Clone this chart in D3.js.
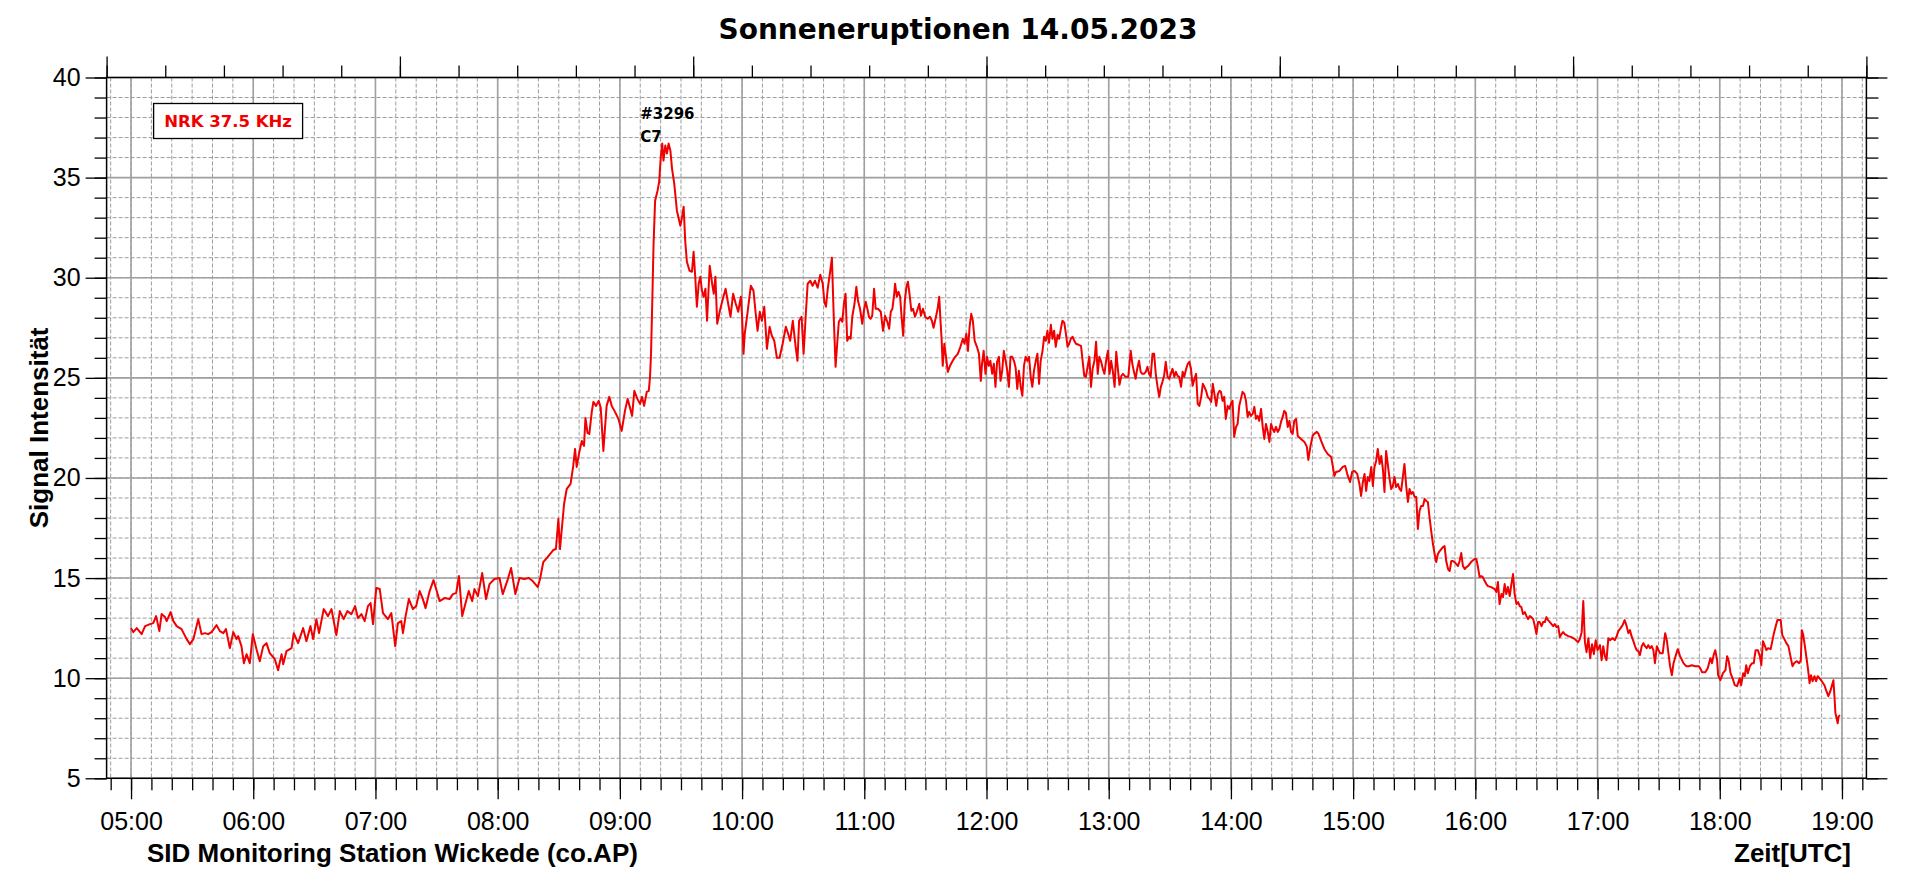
<!DOCTYPE html>
<html>
<head>
<meta charset="utf-8">
<script src="https://cdn.jsdelivr.net/npm/d3@7"></script>
<style>
  body { margin: 0; background: #fff; }
  svg text { font-family: "Liberation Sans", Arial, sans-serif; }
  svg text.verd { font-family: "DejaVu Sans", Verdana, sans-serif; font-weight: bold; }
</style>
</head>
<body>
<div id="chart"></div>
<script>
// signal readings: [minutes after 05:00 UTC, intensity]
var quietMorning = [[0,12.5],[1.1,12.3],[2.8,12.5],[5.2,12.2],[6.9,12.6],[9.3,12.7],[10.9,12.75],[12.3,13.1],[13.9,12.35],[15,13.2],[16.7,13.05],[17.5,12.85],[19.4,13.3],[20.8,12.85],[22.4,12.6],[24.8,12.45],[27.3,11.95],[28.9,11.7],[30.6,11.95],[33,12.95],[34.6,12.2],[36.3,12.25],[37.9,12.2],[39.5,12.3],[42,12.65],[43.6,12.35],[45.3,12.25],[46.6,12.45],[48.5,11.5],[50.2,12.3],[51.8,11.95],[52.6,12.1],[54.2,11.6],[55.4,10.75],[56.7,11.2],[58.3,10.75],[59.8,12.2],[61.6,11.45],[63.2,10.85],[64.9,11.6],[66.5,11.75],[68.1,11.25],[70.6,10.95],[72.2,10.4],[73.9,11.2],[74.7,10.7],[76.3,11.35],[78.8,11.5],[79.9,12.25],[82,11.75],[84.5,12.5],[86.1,11.85],[88.1,12.6],[89.4,11.95],[91,12.95],[92.3,12.25],[94.6,13.45],[96.7,13.1],[98.4,13.45],[100.8,12.15],[102.5,13.35],[104.4,12.95],[106.2,13.35],[108.2,13.2],[110,13.6],[111.4,13],[113.1,13.2],[114.7,12.85],[116.3,13.6],[117.6,13.75],[118.8,12.7],[120.4,14.5],[122.1,14.45],[123.7,13.25],[126.1,12.95],[127.8,13.25],[129.7,11.6],[131,12.75],[132.7,12.85],[133.5,12.25],[134.8,13.1],[136.4,13.95],[138.4,13.45],[140,13.6],[141.7,14.35],[143.3,13.95],[144.6,13.5],[146.6,14.35],[148.5,14.9],[149.8,14.45],[151.5,13.85],[153.9,14],[156.4,13.95],[158,14.2],[159.6,14.25],[161,15.1],[162.6,13.1],[164.5,13.85],[165.8,14.35],[167.5,13.85],[168.6,14.45],[170.3,14.1],[172.4,15.25],[174.3,13.95],[176,14.7],[178.4,14.95],[180.9,15],[182.5,14.2],[185,14.95],[186.6,15.5],[188.7,14.2],[190.7,15],[193.1,14.95],[195.3,15],[197.2,14.85],[199.7,14.55]];

var flare = [[200.8,14.95],[202.4,15.8],[204.9,16.1],[207.3,16.4],[208.6,16.45],[209.8,17.95],[210.6,16.45],[211.4,17.35],[212.6,18.7],[213.9,19.45],[215.8,19.7],[217.1,20.6],[218,21.45],[218.8,20.55],[220.1,21.3],[221.3,21.85],[222.4,21.6],[223.1,23],[224.1,22.25],[225,22.2],[226.2,23.3],[227,23.8],[228.3,23.6],[229.6,23.85],[230.6,23.5],[231.9,21.35],[232.7,22.5],[233.5,23.6],[234.8,24.05],[236,23.6],[237.6,23.3],[239.3,22.95],[240.9,22.35],[242.5,23.35],[243.8,23.95],[245,23.5],[246,23.1],[247.1,24.35],[248.6,23.95],[249.9,23.7],[250.9,24.05],[251.9,23.6],[253.2,24.3],[254.2,24.35],[254.8,25.05],[255.3,26.2],[256,29.2],[256.5,31.55],[257.3,33.85],[258.5,34.35],[259.3,34.8],[260.1,36.05],[260.8,36.7],[261.4,35.85],[262.3,36.6],[263.1,36.2],[263.9,36.7],[264.8,36.35],[265.6,35.45],[266.7,34.7],[268,33.35],[269.7,32.6],[270.5,33],[271.3,33.55],[272.1,31.8],[272.9,30.8],[274.2,30.35],[275.4,30.3],[276.2,31.3],[277,30.05],[277.8,28.55],[278.7,29.7],[279.5,30.05],[280.3,29.35],[281.1,29.05],[282,29.45],[282.8,27.85],[284.1,30.6],[285.3,29.7],[286.1,29.2],[286.9,30.05],[287.8,27.7],[289.1,28.35],[290.2,28.8],[291.9,29.45],[293,28.8],[294.3,28.05],[295.6,29.2],[296.9,28.7],[298.1,28.3],[299.4,29.05],[300,28.05],[300.7,26.2],[301.3,27.2],[302.6,28.2],[304.3,29.6],[305.6,29.35],[306.7,28.2],[307.6,27.35],[308.7,28.3],[309.7,27.85],[310.9,28.55],[312.2,26.45],[313.5,27.55],[314.6,27.1],[315.8,26.85],[317.1,26],[318.4,26],[319.9,26.7],[321.5,27.55],[322.6,27.2],[323.6,26.85],[324.9,27.85],[326.3,26.55],[327.2,25.85],[328,27.85],[329.2,28.05],[330.2,26.2],[331.3,28.2],[332.2,29.7],[333.5,29.85],[334.6,29.6],[335.8,29.85],[337.1,29.5],[338.4,30.15],[339.6,29.7],[340.4,28.8],[341.2,28.55],[342,29.4],[343.3,30.35],[344.1,31]];

var midday = [[345,28.05],[345.9,25.55],[346.7,26.7],[347.5,27.8],[348.4,27.95],[349.2,27.8],[350,28.7],[350.8,29.2],[351.6,26.85],[352.5,27.05],[353.3,26.95],[354.1,28.05],[355.2,28.7],[356.1,29.55],[356.9,28.85],[357.9,28.45],[359,27.7],[359.8,28.35],[360.7,28.8],[361.5,28.45],[362.3,28.05],[363.1,27.95],[363.9,28.1],[364.8,29.45],[365.6,28.45],[366.7,28.45],[368.1,28.3],[369.2,27.35],[370.2,28.1],[371.3,27.8],[372.2,27.45],[373,28.3],[373.8,28.45],[374.6,29.1],[375.1,29.7],[376,29.05],[376.8,29.3],[377.6,29.05],[378.3,28.05],[379.1,27.1],[379.9,28.85],[380.7,29.55],[381.4,29.8],[382.2,29.2],[383.1,28.35],[383.9,28.45],[384.9,28.05],[385.8,28.3],[387,28.7],[387.8,28.1],[388.8,28.45],[389.9,28.05],[391.1,27.95],[392.2,28.05],[393.2,27.85],[394,27.5],[395.2,28.05],[396,28.45],[396.8,29.05],[397.3,28.05],[398,26.85],[398.5,25.6],[399.3,26.7],[400.1,26.05],[401,25.3],[402.1,25.6],[403.4,25.85],[404.6,26.05],[405.9,26.2],[407.2,26.55],[408.4,26.95],[409.2,26.7],[410.1,27.2],[410.9,26.35],[411.7,27.55],[412.5,28.2],[413.3,27.85],[414.2,26.85],[415.3,26.55],[416.3,26.2],[417.2,24.85],[417.8,25.7],[418.6,26.35],[419.5,25.2],[420.3,26.05],[421.1,25.6],[421.9,25.85],[422.8,25.2],[423.6,25.7],[424.4,24.55],[425.2,25.8],[426.1,26.05],[426.9,24.85],[427.7,25.35],[428.5,26.35],[429.4,25.85],[430.2,25.35],[431,24.55],[431.8,26.05],[432.6,26.05],[433.5,25.85],[434.3,25.5],[435.1,24.45],[435.9,25.35],[436.8,24.55],[437.6,24.1],[438.4,25.6],[439.2,26.05],[440.1,25.85],[440.9,26.05],[441.7,25.05],[442.5,24.55],[443.3,25.35],[444.2,25.85],[445,26.2],[445.8,24.7],[446.6,25.85],[447.5,26.35],[448.3,27.05],[449.1,26.85],[449.9,27.35],[450.7,26.75],[451.6,27.65],[452.4,26.95],[453.2,27.35],[454,26.55],[454.9,27.15],[455.7,26.95],[456.5,27.45],[457.3,27.85],[458.2,27.75],[459,27.2],[459.8,26.55],[460.6,26.7],[461.4,26.95],[462.3,27.05],[463.1,26.85],[463.9,26.7],[465.2,26.65],[466.4,26.6],[467.2,25.85],[468,25.1],[468.8,25.05],[469.7,25.6],[470.5,26.05],[471.3,24.55],[472.1,25.45],[473,25.85],[473.8,26.8],[474.6,25.2],[475.4,26.05],[476.3,25.8],[477.1,25.45],[477.9,25.2],[478.7,25.85],[479.6,26.35],[480.4,25.2],[481.2,25.85],[482,25.35],[482.9,24.55],[483.7,26.3],[484.5,25.45],[485.3,24.65],[486.2,25.1],[487,25.2],[488.3,25.05],[489.6,25.05],[490.8,26.35],[491.6,25.7],[492.4,25.3],[493.2,24.95],[494,25.45],[494.9,25.85],[495.7,25.3],[496.5,25.2],[497.3,25.2],[498.2,25.3],[499,25.55],[499.8,25.2],[500.6,25.05],[501.5,26.2],[502.3,26.2],[503.1,25.2],[503.9,24.6],[504.8,24.05],[505.6,24.55],[506.4,24.8],[507.2,25.1],[508,25.8],[508.9,25.05],[509.7,24.95],[510.5,25.2],[511.3,25.45],[512.2,25.05],[513,25.3],[513.8,25.1],[514.6,25.05],[515.5,24.55],[516.3,25.3],[517.1,25.05],[517.9,25.4],[518.8,25.7],[519.6,25.8],[520.4,25.45],[521.2,24.6],[522.1,24.95],[522.9,25.2],[523.7,23.7],[524.5,23.6],[525.4,24.05],[526.2,24.7],[527,24.55],[527.8,24.35],[528.6,24.05],[529.5,23.95],[530.3,23.8],[531.1,24.7],[531.9,24.2],[532.8,23.6],[533.6,24.2],[534.4,24.35]];

var afternoon = [[535.1,24.3],[535.9,23.85],[536.7,24.05],[537.5,22.95],[538.4,23.6],[539.2,23.45],[540,23.7],[540.8,23.85],[541.6,22.05],[542.5,22.55],[543.3,22.7],[544.1,23.6],[544.9,23.95],[545.7,24.3],[546.6,24.2],[547.4,23.85],[548.2,23.05],[549,23.3],[549.8,23.1],[550.7,23.2],[551.5,23.55],[552.3,22.95],[553.1,23.1],[553.9,22.85],[554.8,23.45],[555.6,22.55],[556.4,21.95],[557.2,22.7],[558,22.35],[558.9,21.8],[559.7,22.7],[560.5,22.45],[561.3,22.3],[562.1,22.55],[563,22.3],[563.8,22.45],[564.6,22.8],[565.4,23.05],[566.2,23.35],[567,23.25],[567.9,22.55],[568.7,22.85],[569.5,22.3],[570.3,22.2],[571.1,22.85],[572,22.95],[572.8,22.1],[574.4,21.95],[576.1,21.8],[577.3,21.55],[578,20.9],[579,21.55],[580.1,22.1],[580.9,22.2],[582.2,22.3],[583,22.2],[584.3,21.85],[585.9,21.45],[587.5,21.2],[589.2,21.05],[590,20.6],[590.8,20.1],[591.6,20.3],[593.3,20.35],[594.9,20.55],[596.1,20.6],[597.4,20.1],[598.5,19.8],[599.5,20.3],[600.7,20.35],[602,20.2],[603.1,19.7],[603.9,19.1],[604.8,19.8],[605.6,20.2],[606.4,19.35],[607.2,20.05],[608,19.85],[608.9,20.55],[609.7,19.6],[610.5,20.55],[611.3,20.85],[612.1,21.45],[613,20.7],[613.8,21.1],[614.6,20.45],[615.4,19.3],[616.2,21.35],[617,20.7],[617.9,19.95],[618.7,19.45],[619.5,19.6],[620.3,20.05],[621.1,19.55],[622,19.7],[622.8,19.45],[623.6,19.35],[624.4,20.05],[625.2,20.7],[626.1,19.55],[626.9,18.8],[627.7,19.45],[628.5,19.2],[629.3,19.3],[630.2,19.05],[631,19.05],[631.8,17.45],[632.6,18.35],[633.4,18.6],[634.3,18.6],[635.1,18.95],[635.9,18.85],[636.7,18.8],[637.5,18.05],[638.4,17.3],[639.2,16.7],[640,16.2],[640.8,15.8],[641.6,16.2],[642.5,16.35],[643.3,16.45],[644.1,16.55],[644.9,16.6],[645.7,15.85],[646.6,15.45],[647.4,15.35],[648.2,15.85],[649,15.85],[649.8,15.8],[650.7,15.7],[651.5,15.6],[652.3,15.85],[653.1,16.25],[653.9,15.6],[654.8,15.45],[655.6,15.55],[656.4,15.6],[657.9,15.8],[659.6,15.95],[660.5,15.95],[661.3,15.55],[662.1,15.05],[662.9,15.1],[663.7,15.05],[664.6,14.85],[665.4,14.7],[666.2,14.6],[667.8,14.55],[669.5,14.45],[670.3,14.3],[671.1,14.8],[671.9,13.7],[672.8,14.2],[673.6,14.05],[674.4,14.7],[675.2,14.2],[676,14.55],[676.9,14.1],[677.7,14.7],[678.5,15.2],[679.3,14.2],[680.2,13.7],[681,13.8],[681.8,13.6],[682.6,13.55],[683.4,13.2],[684.3,13.3],[685.1,13.1],[685.9,12.95],[686.7,13.1],[687.5,13.05],[688.4,12.95],[689.2,12.6],[690,12.2],[690.8,12.8],[691.6,12.8],[692.5,12.6],[693.3,12.8],[694.1,12.8],[694.9,13.05],[695.7,12.9],[696.6,12.8],[697.4,12.7],[698.2,12.6],[699,12.7],[699.8,12.55],[700.7,12.6],[701.5,12.05],[702.3,12.2],[703.1,12.3],[703.9,12.2],[705.6,12.1],[707.2,12.05],[708.9,11.95],[710.5,11.8],[711.3,11.95],[712.2,12.3],[713,13.85],[713.8,11.8]];

var evening = [[714.6,11.3],[715.5,12],[716.4,11],[717.3,11.7],[718.2,11.2],[719.1,11.9],[720,11.4],[721.2,11.65],[722,10.9],[722.8,11.6],[723.6,11.1],[724.4,10.9],[725.3,12],[726.1,11.9],[727.4,12],[728.5,11.9],[729.4,12.1],[730.2,12.35],[731.3,12.5],[732.3,12.65],[733.3,12.9],[734.3,12.6],[735.1,12.25],[735.9,12.4],[736.7,12.1],[737.6,11.85],[738.4,11.6],[739.2,11.4],[740,11.35],[740.8,11.15],[741.7,11.6],[742.5,11.75],[743.3,11.6],[744.1,11.5],[744.9,11.65],[745.8,11.5],[746.6,11.6],[747.4,11.4],[748.2,10.75],[749.1,11.6],[749.9,11.4],[750.7,11.25],[752,11.25],[753.2,12.25],[754,11.9],[754.8,11.25],[755.6,10.6],[756.5,10.15],[757.3,10.75],[758.3,11.1],[759.4,11.45],[760.5,11.1],[762.2,10.75],[763.5,10.6],[764.7,10.6],[766.3,10.65],[768,10.6],[769.6,10.6],[770.4,10.5],[771.3,10.3],[772.9,10.3],[774.1,10.5],[775.4,11],[776.2,10.75],[777,11.15],[777.8,11.4],[778.7,10.9],[779.2,10.15],[780.3,9.9],[781.6,10.25],[782.8,10.4],[783.6,11.1],[784.4,10.85],[785.3,10.25],[786.6,9.9],[787.4,9.65],[788.5,9.6],[789.8,10],[790.5,9.65],[791.5,10.25],[792.3,10.1],[793,10.65],[793.8,10.25],[794.8,10.6],[795.9,10.75],[796.7,10.75],[797.6,11.4],[798.7,11.4],[799.7,11.1],[800.4,10.65],[801.2,11.85],[802,11.65],[802.9,11.4],[803.7,11.5],[805,11.45],[805.8,11.85],[806.6,12.25],[807.5,12.6],[808.3,12.9],[809.1,12.9],[809.9,12.9],[810.7,12.15],[811.5,12],[812.7,11.75],[813.7,11.6],[814.9,11],[815.7,10.6],[816.5,10.75],[817.7,10.85],[819,10.75],[819.8,10.9],[820.3,12.4],[821,12.15],[821.8,11.6],[822.6,11],[823.4,10.4],[824.1,9.75],[824.8,10.15],[825.6,9.85],[826.5,10.1],[827.3,9.85],[828.1,10.1],[828.9,10],[830.1,9.85],[831.4,9.65],[832.2,9.4],[833.3,9.1],[834.3,9.35],[835.1,9.65],[835.8,9.9],[836.3,9.1],[836.8,8.25],[837.4,8],[837.9,7.75],[838.4,8.1],[839.1,8.15]];

var yRange = [5, 40];
var chartTitle = "Sonneneruptionen 14.05.2023";
var seriesName = "NRK 37.5 KHz";
var flareLabels = ["#3296", "C7"];
var yTitle = "Signal Intensität";
var footLeft = "SID Monitoring Station Wickede (co.AP)";
var footRight = "Zeit[UTC]";

var W = 1920, H = 879;
var margin = { top: 77.5, right: 53.6, bottom: 100.7, left: 106.6 };
var w = W - margin.left - margin.right;
var h = H - margin.top - margin.bottom;

var day = Date.UTC(2023, 4, 14, 5, 0);
function toTime(m) { return new Date(day + m * 60000); }

var data = quietMorning.concat(flare, midday, afternoon, evening)
    .map(function(d) { return { time: toTime(d[0]), value: d[1] }; });

var svg = d3.select("#chart").append("svg")
    .attr("width", W)
    .attr("height", H);

var g = svg.append("g")
    .attr("transform", "translate(" + margin.left + "," + margin.top + ")");

var x = d3.scaleUtc().domain([toTime(-12), toTime(852)]).range([0, w]);
var y = d3.scaleLinear().domain(yRange).range([h, 0]);
var xTop = d3.scaleLinear().domain([0, 6]).range([0, w]);

var hourTicks = d3.utcHour.every(1).range(toTime(0), toTime(841));
var tenMinTicks = d3.utcMinute.every(10).range(toTime(-10), toTime(851));
var yMajor = d3.range(yRange[0], yRange[1] + 0.1, 5);
var yMinor = d3.range(yRange[0], yRange[1] + 0.1, 1);

// grid: dashed minor, solid major
var grid = g.append("g").attr("class", "grid");
grid.selectAll(".vminor").data(tenMinTicks).enter().append("line")
    .attr("x1", d => x(d)).attr("x2", d => x(d)).attr("y1", 0).attr("y2", h)
    .attr("stroke", "#9c9c9c").attr("stroke-width", 1).attr("stroke-dasharray", "4,2");
grid.selectAll(".hminor").data(yMinor).enter().append("line")
    .attr("x1", 0).attr("x2", w).attr("y1", d => y(d)).attr("y2", d => y(d))
    .attr("stroke", "#9c9c9c").attr("stroke-width", 1).attr("stroke-dasharray", "4,2");
grid.selectAll(".vmajor").data(hourTicks).enter().append("line")
    .attr("x1", d => x(d)).attr("x2", d => x(d)).attr("y1", 0).attr("y2", h)
    .attr("stroke", "#a0a0a0").attr("stroke-width", 1.6);
grid.selectAll(".hmajor").data(yMajor).enter().append("line")
    .attr("x1", 0).attr("x2", w).attr("y1", d => y(d)).attr("y2", d => y(d))
    .attr("stroke", "#a0a0a0").attr("stroke-width", 1.6);

// signal line
var line = d3.line().x(d => x(d.time)).y(d => y(d.value));
g.append("path")
    .datum(data)
    .attr("d", line)
    .attr("fill", "none")
    .attr("stroke", "#f00000")
    .attr("stroke-width", 2)
    .attr("stroke-linejoin", "round");

// axes
function tidy(sel) {
    sel.select(".domain").remove();
    sel.selectAll("line").attr("stroke", "#000").attr("stroke-width", 1.3);
    sel.selectAll("text").attr("fill", "#000").style("font-size", "25px");
}
var fmt = d3.utcFormat("%H:%M");

g.append("g").attr("transform", "translate(0," + h + ")")
    .call(d3.axisBottom(x).tickValues(tenMinTicks).tickSize(12).tickFormat("")).call(tidy);
g.append("g").attr("transform", "translate(0," + h + ")")
    .call(d3.axisBottom(x).tickValues(hourTicks).tickSize(21).tickPadding(13).tickFormat(fmt)).call(tidy);

g.append("g")
    .call(d3.axisLeft(y).tickValues(yMinor).tickSize(12).tickFormat("")).call(tidy);
g.append("g")
    .call(d3.axisLeft(y).tickValues(yMajor).tickSize(21).tickPadding(5)).call(tidy);

g.append("g").attr("transform", "translate(" + w + ",0)")
    .call(d3.axisRight(y).tickValues(yMinor).tickSize(12).tickFormat("")).call(tidy);
g.append("g").attr("transform", "translate(" + w + ",0)")
    .call(d3.axisRight(y).tickValues(yMajor).tickSize(21).tickFormat("")).call(tidy);

g.append("g")
    .call(d3.axisTop(xTop).tickValues(d3.range(0, 6.01, 0.2)).tickSize(12).tickFormat("")).call(tidy);
g.append("g")
    .call(d3.axisTop(xTop).tickValues(d3.range(0, 7)).tickSize(21).tickFormat("")).call(tidy);

g.append("rect")
    .attr("width", w).attr("height", h)
    .attr("fill", "none").attr("stroke", "#000").attr("stroke-width", 1.5);

// legend box
var legend = g.append("g").attr("transform", "translate(47,26)");
legend.append("rect")
    .attr("width", 149).attr("height", 35)
    .attr("fill", "#fff").attr("stroke", "#000").attr("stroke-width", 1.3);
legend.append("text")
    .attr("class", "verd")
    .attr("x", 74.5).attr("y", 23.5)
    .attr("text-anchor", "middle")
    .style("font-size", "16.5px")
    .attr("fill", "#f00000")
    .text(seriesName);

// flare annotation at the peak
var peak = data[d3.maxIndex(data, d => d.value)];
var ann = g.append("g")
    .attr("transform", "translate(" + (x(peak.time) - 22) + "," + y(peak.value) + ")");
ann.selectAll("text").data(flareLabels).enter().append("text")
    .attr("class", "verd")
    .style("font-size", "15px")
    .attr("y", (d, i) => i * 23 - 25)
    .text(d => d);

// titles
svg.append("text")
    .attr("class", "verd")
    .attr("x", 958).attr("y", 39)
    .attr("text-anchor", "middle")
    .style("font-size", "28px")
    .text(chartTitle);

svg.append("text")
    .attr("transform", "translate(48," + (margin.top + h / 2) + ") rotate(-90)")
    .attr("text-anchor", "middle")
    .style("font-weight", "bold").style("font-size", "26px")
    .text(yTitle);

svg.append("text")
    .attr("x", 147).attr("y", 862)
    .style("font-weight", "bold").style("font-size", "26px")
    .text(footLeft);

svg.append("text")
    .attr("x", 1851).attr("y", 862)
    .attr("text-anchor", "end")
    .style("font-weight", "bold").style("font-size", "26px")
    .text(footRight);
</script>
</body>
</html>
